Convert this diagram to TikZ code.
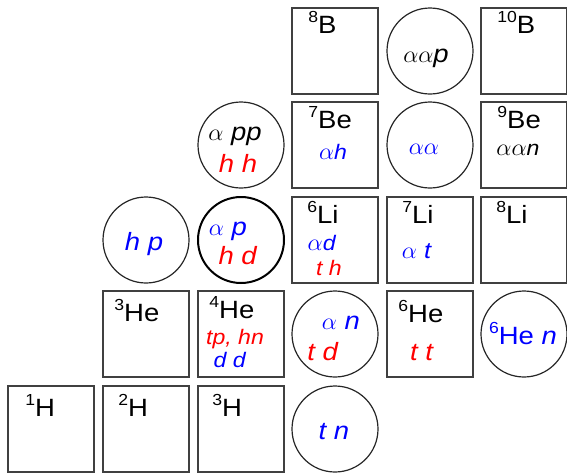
\documentclass[tikz,border=0pt]{standalone}
\usepackage{fontspec}
\setmainfont{Liberation Sans}[FakeStretch=1.1]
\usepackage{xcolor}

\newcommand{\al}{{\fontsize{12}{12}\selectfont$\alpha$}}
\newcommand{\nuc}[2]{\raisebox{5.5pt}{\fontsize{8}{8}\selectfont #1}#2}

\begin{document}
\begin{tikzpicture}[x=0.5pt, y=-0.5pt,
    nucbox/.style={draw=black!75, line width=0.7pt, minimum width=43pt,
        minimum height=43pt, inner sep=0pt},
    clus/.style={draw=black!85, circle, line width=0.6pt, minimum size=43pt,
        inner sep=0pt},
    isolab/.style={anchor=base west, inner sep=0pt, font=\fontsize{12.5}{14}\selectfont},
    chan/.style={anchor=base, inner sep=0pt, font=\fontsize{10.5}{12}\selectfont},
    chanbig/.style={anchor=base, inner sep=0pt, font=\fontsize{12.5}{14}\selectfont}]

    \useasboundingbox (0,0) rectangle (567,472);

    % Nuclei boxes
    \node[nucbox] (H1)  at (51,429)  {};
    \node[nucbox] (H2)  at (146,429) {};
    \node[nucbox] (H3)  at (241,429) {};
    \node[nucbox] (He3) at (146,334) {};
    \node[nucbox] (He4) at (241,334) {};
    \node[nucbox] (He6) at (430,334) {};
    \node[nucbox] (Li6) at (335,240) {};
    \node[nucbox] (Li7) at (430,240) {};
    \node[nucbox] (Li8) at (524,240) {};
    \node[nucbox] (Be7) at (335,145) {};
    \node[nucbox] (Be9) at (524,145) {};
    \node[nucbox] (B8)  at (335,51)  {};
    \node[nucbox] (B10) at (524,51)  {};

    % Cluster circles
    \node[clus] (app) at (241,145) {};
    \node[clus] (aa)  at (430,145) {};
    \node[clus] (aap) at (430,51)  {};
    \node[clus] (hp)  at (146,240) {};
    \node[clus, line width=1pt, draw=black] (ap) at (241,240) {};
    \node[clus] (an)  at (335,334) {};
    \node[clus] (Hen) at (524,334) {};
    \node[clus] (tn)  at (335,429) {};

    % Isotope names
    \node[isolab] (tH1)  at (25,416)  {\nuc{1}{H}};
    \node[isolab] (tH2)  at (118,416) {\nuc{2}{H}};
    \node[isolab] (tH3)  at (212,416) {\nuc{3}{H}};
    \node[isolab] (tHe3) at (114,321) {\nuc{3}{He}};
    \node[isolab] (tHe4) at (209,318) {\nuc{4}{He}};
    \node[isolab] (tHe6) at (398,322) {\nuc{6}{He}};
    \node[isolab] (tLi6) at (307,223) {\nuc{6}{Li}};
    \node[isolab] (tLi7) at (402,223) {\nuc{7}{Li}};
    \node[isolab] (tLi8) at (496,223) {\nuc{8}{Li}};
    \node[isolab] (tBe7) at (308,128) {\nuc{7}{Be}};
    \node[isolab] (tBe9) at (497,128) {\nuc{9}{Be}};
    \node[isolab] (tB8)  at (308,33)  {\nuc{8}{B}};
    \node[isolab] (tB10) at (497,33)  {\nuc{10}{B}};

    % Channels inside the boxes
    \node[chan, blue] (cBe7) at (333,159) {\al\textit{h}};
    \node[chan, blue] (cLi6a) at (322,250) {\al\textit{d}};
    \node[chan, red]  (cLi6b) at (329,275) {\textit{t h}};
    \node[chan] (cBe9) at (518,155) {\al\al\textit{n}};
    \node[chan, blue, font=\fontsize{11.5}{13}\selectfont] (cLi7) at (417,258) {\al\ \textit{t}};
    \node[chan, red]  (cHe4a) at (235,344) {\textit{tp, hn}};
    \node[chan, blue] (cHe4b) at (230,367) {\textit{d d}};
    \node[chanbig, red] (cHe6) at (422,360) {\textit{t t}};

    % Channels inside the circles
    \node[chanbig] (lapp) at (235,140) {\al\ \textit{pp}};
    \node[chanbig, red] (lhh) at (238,172) {\textit{h h}};
    \node[chanbig, blue] (lap) at (228,235) {\al\ \textit{p}};
    \node[chanbig, red] (lhd) at (238,264) {\textit{h d}};
    \node[chanbig, blue] (lhp) at (144,250) {\textit{h p}};
    \node[chanbig] (laap) at (426,62) {\al\al\textit{p}};
    \node[chanbig, blue] (laa) at (424,154) {\al\al};
    \node[chanbig, blue] (lan) at (341,329) {\al\ \textit{n}};
    \node[chanbig, red] (ltd) at (323,360) {\textit{t d}};
    \node[chanbig, blue] (lHen) at (523,344) {\nuc{6}{He} \textit{n}};
    \node[chanbig, blue] (ltn) at (334,439) {\textit{t n}};

\end{tikzpicture}
\end{document}
